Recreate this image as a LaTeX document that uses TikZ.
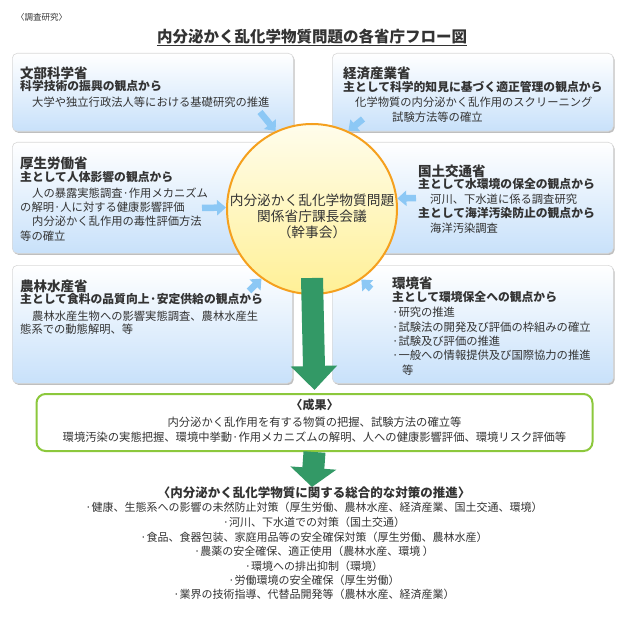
\documentclass[tikz,border=0pt]{standalone}
\usepackage{fontspec}
\setmainfont{Noto Sans CJK JP}
\usetikzlibrary{arrows.meta,shadows}
\definecolor{txt}{HTML}{333333}
\definecolor{boxblue}{RGB}{200,225,250}
\definecolor{arrblue}{RGB}{140,200,245}
\definecolor{orng}{RGB}{245,160,30}
\definecolor{ylwtop}{RGB}{255,253,236}
\definecolor{ylwbot}{RGB}{255,240,150}
\definecolor{grn}{RGB}{51,153,102}
\definecolor{resgrn}{RGB}{140,200,60}
\newcommand{\headf}{\fontsize{13.5}{15}\selectfont\bfseries}
\newcommand{\subf}{\fontsize{11.8}{14}\selectfont\bfseries}
\newcommand{\bodyf}{\fontsize{11.3}{14}\selectfont}
\newcommand{\listf}{\fontsize{11}{14}\selectfont}
\newcommand{\circf}{\fontsize{13.7}{16}\selectfont}
\begin{document}
\begin{tikzpicture}[x=1pt,y=-1pt,
  bbox/.style={draw=black!15, line width=0.6pt, rounded corners=5pt, top color=white, bottom color=boxblue,
    drop shadow={shadow xshift=1.3pt, shadow yshift=-1.6pt, fill=black!45, opacity=0.55},
    anchor=north west, inner sep=0},
  lbl/.style={anchor=west, inner sep=0, text=txt},
  clbl/.style={anchor=center, inner sep=0, text=txt},
  barr/.style={draw=arrblue, line width=6.5pt, -{Triangle[width=15pt,length=9pt]}},
  garr/.style={draw=grn, line width=22pt, -{Triangle[width=45pt,length=24pt]}},
  garrb/.style={draw=grn, line width=22pt, -{Triangle[width=45pt,length=19pt]}}]
\useasboundingbox[fill=white] (0,0) rectangle (620,620);

% header
\node[lbl, text=txt] (hdr) at (16,17) {\fontsize{8.5}{10}\selectfont 〈調査研究〉};
\node[clbl] (title) at (312,37) {\fontsize{15.5}{18}\selectfont\bfseries 内分泌かく乱化学物質問題の各省庁フロー図};
\draw[txt, line width=0.8pt] ([yshift=-2.5pt]title.base west) -- ([yshift=-2.5pt]title.base east);

% boxes
\node[bbox, minimum width=281pt, minimum height=78pt] (b1) at (12,53) {};
\node[bbox, minimum width=281pt, minimum height=78pt] (b2) at (332,53) {};
\node[bbox, minimum width=281pt, minimum height=111pt] (b3) at (12,142) {};
\node[bbox, minimum width=281pt, minimum height=111pt] (b4) at (332,142) {};
\node[bbox, minimum width=280pt, minimum height=118pt] (b5) at (12,265) {};
\node[bbox, minimum width=281pt, minimum height=118pt] (b6) at (332,265) {};

% box 1
\node[lbl] (t1a) at (20,73) {\headf 文部科学省};
\node[lbl] (t1b) at (20,86) {\subf 科学技術の振興の観点から};
\node[lbl] (t1c) at (32,102) {\bodyf 大学や独立行政法人等における基礎研究の推進};
% box 2
\node[lbl] (t2a) at (343,73) {\headf 経済産業省};
\node[lbl] (t2b) at (343,87) {\subf 主として科学的知見に基づく適正管理の観点から};
\node[lbl] (t2c) at (355,102) {\bodyf 化学物質の内分泌かく乱作用のスクリーニング};
\node[lbl] (t2d) at (392,117) {\bodyf 試験方法等の確立};
% box 3
\node[lbl] (t3a) at (20,163) {\headf 厚生労働省};
\node[lbl] (t3b) at (20,177) {\subf 主として人体影響の観点から};
\node[lbl] (t3c) at (32,193) {\bodyf 人の暴露実態調査·作用メカニズム};
\node[lbl] (t3d) at (20,207) {\bodyf の解明·人に対する健康影響評価};
\node[lbl] (t3e) at (32,221) {\bodyf 内分泌かく乱作用の毒性評価方法};
\node[lbl] (t3f) at (20,236) {\bodyf 等の確立};
% box 4
\node[lbl] (t4a) at (418,171) {\headf 国土交通省};
\node[lbl] (t4b) at (418,184) {\subf 主として水環境の保全の観点から};
\node[lbl] (t4c) at (430,199) {\bodyf 河川、下水道に係る調査研究};
\node[lbl] (t4d) at (418,213) {\subf 主として海洋汚染防止の観点から};
\node[lbl] (t4e) at (430,228) {\bodyf 海洋汚染調査};
% box 5
\node[lbl] (t5a) at (20,286) {\headf 農林水産省};
\node[lbl] (t5b) at (20,299) {\subf 主として食料の品質向上·安定供給の観点から};
\node[lbl] (t5c) at (32,316) {\bodyf 農林水産生物への影響実態調査、農林水産生};
\node[lbl] (t5d) at (20,329) {\bodyf 態系での動態解明、等};
% box 6
\node[lbl] (t6a) at (392,283) {\headf 環境省};
\node[lbl] (t6b) at (392,297) {\subf 主として環境保全への観点から};
\node[lbl] (t6c) at (392,312) {\bodyf ·研究の推進};
\node[lbl] (t6d) at (392,327) {\bodyf ·試験法の開発及び評価の枠組みの確立};
\node[lbl] (t6e) at (392,341) {\bodyf ·試験及び評価の推進};
\node[lbl] (t6f) at (392,355) {\bodyf ·一般への情報提供及び国際協力の推進};
\node[lbl] (t6g) at (402,370) {\bodyf 等};

% central circle
\node[circle, draw=orng, line width=2pt, top color=ylwtop, bottom color=ylwbot, minimum size=170pt, inner sep=0] (cir) at (312,209) {};
\node[clbl] (c1) at (312,200) {\circf 内分泌かく乱化学物質問題};
\node[clbl] (c2) at (312,216) {\circf 関係省庁課長会議};
\node[clbl] (c3) at (312,232) {\circf （幹事会）};

% blue arrows
\coordinate (s1) at (260,112);
\coordinate (s2) at (363,119);
\coordinate (s3) at (202,208);
\coordinate (s4) at (416,198);
\coordinate (s5) at (249,291);
\coordinate (s6) at (371,289);
\draw[barr] (s1) -- (cir.115);
\draw[barr] (s2) -- (cir.65);
\draw[barr] (s3) -- (cir.179);
\draw[barr] (s4) -- (cir.7);
\draw[barr] (s5) -- (cir.234);
\draw[barr] (s6) -- (cir.305);

% results box
\node[draw=resgrn, line width=2pt, rounded corners=9pt, fill=white, minimum width=556pt, minimum height=57pt, inner sep=0] (res) at (314.5,422.5) {};
\node[clbl] (r1) at (314.5,405) {\fontsize{12}{14}\selectfont\bfseries 〈成果〉};
\node[clbl] (r2) at (314.5,422) {\bodyf 内分泌かく乱作用を有する物質の把握、試験方法の確立等};
\node[clbl] (r3) at (314.5,437.5) {\bodyf 環境汚染の実態把握、環境中挙動·作用メカニズムの解明、人への健康影響評価、環境リスク評価等};

% green arrows
\coordinate (g1) at (312,278);
\coordinate (g2) at (312,487);
\draw[garr] (g1) -- ([yshift=3pt]res.north);
\draw[garrb] (res.south) -- (g2);

% bottom list
\node[clbl] (l0) at (314,493) {\fontsize{12.5}{15}\selectfont\bfseries 〈内分泌かく乱化学物質に関する総合的な対策の推進〉};
\node[clbl] (l1) at (314,507) {\listf ·健康、生態系への影響の未然防止対策（厚生労働、農林水産、経済産業、国土交通、環境）};
\node[clbl] (l2) at (314,522) {\listf ·河川、下水道での対策（国土交通）};
\node[clbl] (l3) at (314,537) {\listf ·食品、食器包装、家庭用品等の安全確保対策（厚生労働、農林水産）};
\node[clbl] (l4) at (314,551) {\listf ·農薬の安全確保、適正使用（農林水産、環境 ）};
\node[clbl] (l5) at (314,566) {\listf ·環境への排出抑制（環境）};
\node[clbl] (l6) at (314,580) {\listf ·労働環境の安全確保（厚生労働）};
\node[clbl] (l7) at (314,594) {\listf ·業界の技術指導、代替品開発等（農林水産、経済産業）};
\end{tikzpicture}
\end{document}
